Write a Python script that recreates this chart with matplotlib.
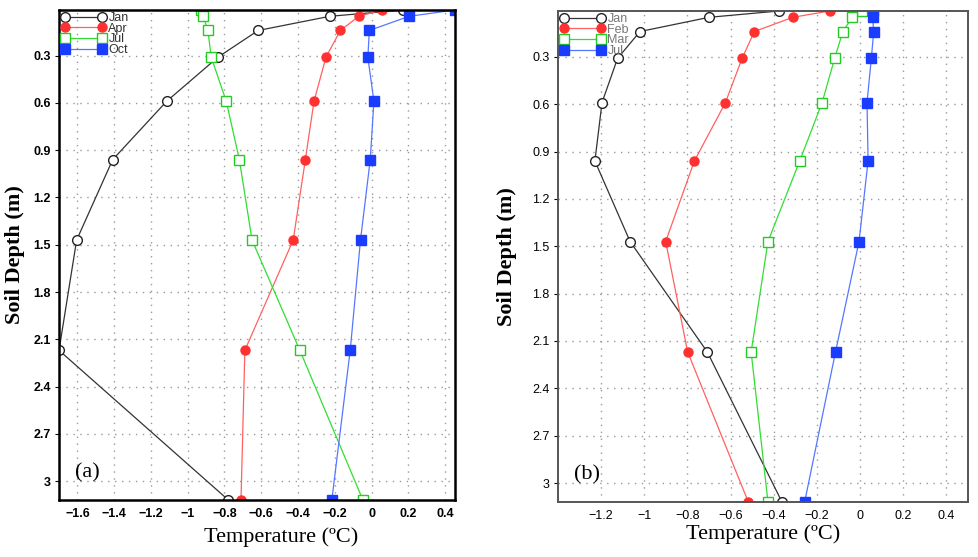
import numpy as np
import matplotlib
matplotlib.use('Agg')
import matplotlib.pyplot as plt

# Soil depth of each layer (m)
depth = [0.01, 0.05, 0.14, 0.31, 0.59, 0.96, 1.47, 2.17, 3.12]

# Panel (a) temperature profiles (degC)
a_jan = [0.17, -0.227, -0.617, -0.836, -1.115, -1.408, -1.604, -1.70, -0.779]
a_apr = [0.057, -0.069, -0.17, -0.248, -0.313, -0.36, -0.426, -0.689, -0.71]
a_jul = [-0.93, -0.916, -0.89, -0.872, -0.79, -0.719, -0.65, -0.39, -0.047]
a_oct = [0.454, 0.204, -0.012, -0.02, 0.013, -0.007, -0.06, -0.116, -0.216]

# Panel (b) temperature profiles (degC)
b_jan = [-0.377, -0.70, -1.02, -1.124, -1.196, -1.229, -1.066, -0.708, -0.362]
b_feb = [-0.141, -0.312, -0.49, -0.547, -0.624, -0.768, -0.901, -0.799, -0.518]
b_mar = [0.007, -0.036, -0.08, -0.118, -0.176, -0.28, -0.427, -0.505, -0.427]
b_jul = [0.058, 0.058, 0.063, 0.052, 0.032, 0.037, -0.005, -0.114, -0.257]

yticks = [0.3, 0.6, 0.9, 1.2, 1.5, 1.8, 2.1, 2.4, 2.7, 3.0]
yticklabels = ['0.3', '0.6', '0.9', '1.2', '1.5', '1.8', '2.1', '2.4', '2.7', '3']

styles = [
    dict(color='#333333', marker='o', mfc='white', mec='#222222', ms=7, lw=0.9),
    dict(color='#ff6060', marker='o', mfc='#ff3030', mec='#ff3030', ms=6.5, lw=0.9),
    dict(color='#33dd33', marker='s', mfc='white', mec='#22cc22', ms=6.5, lw=0.9),
    dict(color='#5577ff', marker='s', mfc='#1a3cff', mec='#1a3cff', ms=6.5, lw=0.9),
]

sans = 'Liberation Sans'
serif = 'Liberation Serif'

fig = plt.figure(figsize=(9.79, 5.57), dpi=100)
ax1 = fig.add_axes([59 / 979, 57 / 557, 396 / 979, 490 / 557])
ax2 = fig.add_axes([558 / 979, 55 / 557, 410 / 979, 491 / 557])


def draw_panel(ax, series, labels, xticks, xlim, bold, frame_color, frame_lw, tag, legend_color):
    for vals, lab, st in zip(series, labels, styles):
        ax.plot(vals, depth, label=lab, **st)
    ax.set_xlim(*xlim)
    ax.set_ylim(3.12, 0.01)
    ax.set_yticks(yticks)
    ax.set_yticklabels(yticklabels)
    ax.set_xticks(xticks)
    ax.set_xticklabels([('%g' % t).replace('-', '\u2212') for t in xticks])
    weight = 'bold' if bold else 'normal'
    for lab in ax.get_xticklabels() + ax.get_yticklabels():
        lab.set_fontfamily(sans)
        lab.set_fontsize(9)
        lab.set_fontweight(weight)
    ax.tick_params(axis='x', length=0, pad=6)
    ax.tick_params(axis='y', length=3, width=0.8, pad=3)
    ax.grid(True, linestyle=(0, (1, 4)), color='#999999', linewidth=1.0)
    for sp in ax.spines.values():
        sp.set_color(frame_color)
        sp.set_linewidth(frame_lw)
    ax.set_ylabel('Soil Depth (m)', fontfamily=serif, fontweight='bold', fontsize=16)
    ax.set_xlabel('Temperature (\u00baC)', fontfamily=serif, fontsize=16)
    ax.text(0.04, 0.045, tag, transform=ax.transAxes, fontfamily=serif, fontsize=16)
    leg = ax.legend(loc='upper left', frameon=False, numpoints=2, handlelength=3.6,
                    handletextpad=0.2, labelspacing=-0.1, borderaxespad=0.05,
                    borderpad=0.1, prop={'family': sans, 'size': 9})
    for t in leg.get_texts():
        t.set_color(legend_color)


draw_panel(ax1, [a_jan, a_apr, a_jul, a_oct], ['Jan', 'Apr', 'Jul', 'Oct'],
           [-1.6, -1.4, -1.2, -1, -0.8, -0.6, -0.4, -0.2, 0, 0.2, 0.4],
           (min(min(a_jan), min(a_apr), min(a_jul), min(a_oct)),
            max(max(a_jan), max(a_apr), max(a_jul), max(a_oct))),
           True, 'black', 1.8, '(a)', '#333333')
draw_panel(ax2, [b_jan, b_feb, b_mar, b_jul], ['Jan', 'Feb', 'Mar', 'Jul'],
           [-1.2, -1, -0.8, -0.6, -0.4, -0.2, 0, 0.2, 0.4],
           (-1.4, 0.5), False, '#555555', 1.4, '(b)', '#777777')

ax1.yaxis.set_label_coords(-0.085, 0.5)
ax2.yaxis.set_label_coords(-0.10, 0.5)
ax1.xaxis.set_label_coords(0.56, -0.055)
ax2.xaxis.set_label_coords(0.50, -0.045)

plt.savefig('out.png', dpi=100)
